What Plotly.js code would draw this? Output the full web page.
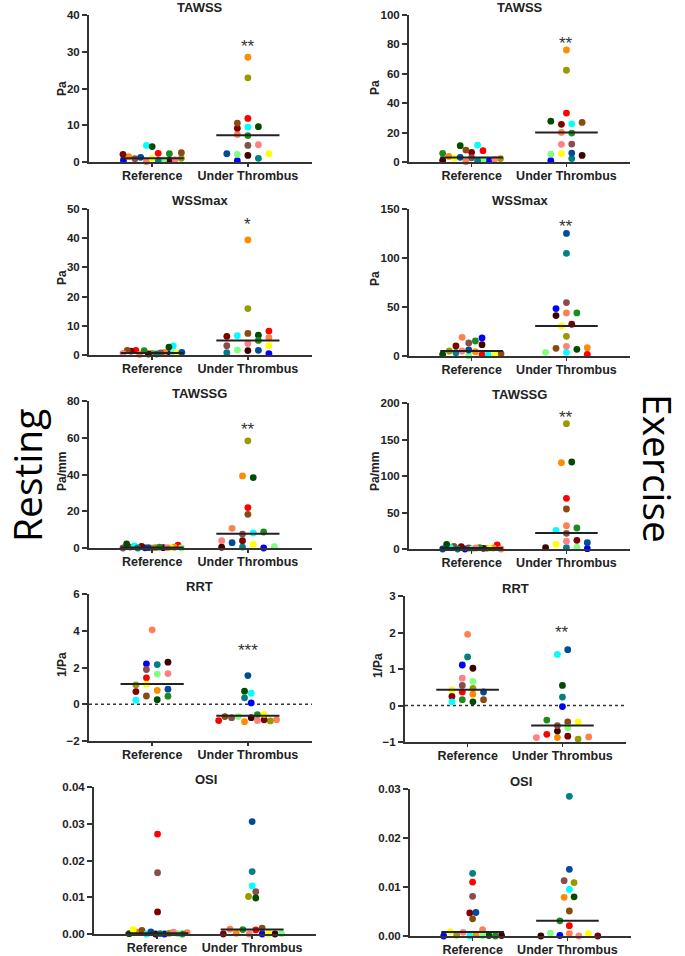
<!DOCTYPE html>
<html>
<head>
<meta charset="utf-8">
<script src="https://cdn.plot.ly/plotly-3.0.1.min.js"></script>
<style>html,body{margin:0;padding:0;background:#fff;}#chart{width:685px;height:956px;}</style>
</head>
<body>
<div id="chart"></div>
<script>
// Subject colours (same subject = same colour in every panel)
// order: blue, red, orange, coral, olive, maroon, darkbrown, brown, rosybrown, cyan, darkgreen, green, lightgreen, teal, yellow, pink, navy
const subjectColors = ['#0000FF','#FF0000','#FF8C00','#FF7F50','#999900','#800000','#3F0000','#8B4A0F','#8B4C4C','#00FFFF','#004D00','#1E8B1E','#80FF80','#008080','#FFFF00','#FF8080','#004C99'];
const categories = ['Reference', 'Under Thrombus'];

// ---- Resting TAWSS (Pa)
const restTAWSS_ref   = [0.45,2.35,1.45,0.1,1.0,2.1,0.45,2.55,0.9,4.5,4.2,2.25,0.55,0.45,1.0,0.65,1.27];
const restTAWSS_refDx = [-0.30,0.063,-0.245,-0.06,0.305,-0.305,0.18,0.305,-0.18,-0.06,0,0.18,0.12,0.063,0,0.24,-0.12];
const restTAWSS_ut    = [0.36,11.85,28.5,7.5,22.9,9.2,1.8,10.6,4.5,9.5,9.6,7.2,2.1,1.0,2.25,4.7,2.25];
const restTAWSS_utDx  = [-0.11,0,0,-0.11,0,-0.11,0,-0.11,0,0,0.11,0,-0.11,0.11,0.22,0.11,-0.22];
// ---- Exercise TAWSS (Pa)
const exTAWSS_ref   = [0.9,7.7,3.8,0.2,2.3,6.6,1.1,8.1,2.9,11.5,11.1,5.9,1.35,0.9,2.7,1.8,3.2];
const exTAWSS_refDx = [0.185,0.12,-0.24,-0.06,0.305,0,-0.305,-0.06,0,0.063,-0.12,-0.305,0.12,0.063,-0.18,0.245,-0.12];
const exTAWSS_ut    = [0.9,33.3,76.2,20.1,62.4,25.6,4.5,26.9,12.2,26.0,27.8,19.7,5.4,2.3,5.7,12.0,6.1];
const exTAWSS_utDx  = [-0.165,0,0,-0.053,0,-0.053,0.165,0.165,0.056,0.056,-0.165,0.056,-0.165,0.056,-0.053,-0.053,0.056];
// ---- Resting WSSmax (Pa)
const restWSSmax_ref   = [0.45,1.6,0.9,0.2,0.57,1.36,0.34,1.6,0.68,3.1,2.7,1.5,0.57,0.34,0.57,0.57,0.9];
const restWSSmax_refDx = [0.175,-0.17,0.13,-0.13,0,-0.22,-0.04,-0.26,0.088,0.22,0.175,-0.084,0.22,0.046,0.26,-0.305,0.31];
const restWSSmax_ut    = [0.45,8.2,39.4,5.9,15.9,6.4,1.5,7.4,3.2,6.6,6.8,5.0,1.7,0.8,3.2,3.9,1.6];
const restWSSmax_utDx  = [0.22,0.22,0,0.22,0,-0.22,0,0,-0.22,-0.11,0.11,0.11,-0.11,-0.22,0.22,0,0.11];
// ---- Exercise WSSmax (Pa)
const exWSSmax_ref   = [18.4,1.4,4.4,19.1,5.1,10.2,11.6,2.4,13.3,1.4,1.7,15.3,0.3,3.4,1.0,5.1,6.1];
const exWSSmax_refDx = [0.11,0.11,0.04,-0.1,-0.235,-0.165,0.11,0.31,-0.03,0.175,-0.305,0.04,-0.03,-0.165,0.245,-0.1,-0.03];
const exWSSmax_ut    = [48.4,1.7,8.5,44.0,20.1,32.4,41.3,7.8,54.5,3.75,6.8,44.0,3.75,104.7,30.7,9.9,125.1];
const exWSSmax_utDx  = [-0.11,0.22,0.22,0,0,0.056,-0.11,-0.11,0,0,0.11,0.11,-0.22,0,-0.053,0,0];
// ---- Resting TAWSSG (Pa/mm)
const restTAWSSG_ref   = [0.1,1.6,0.4,0,0.2,0.9,0.2,0.5,0,1.1,2.2,0.5,0,0,0.2,0.2,0.2];
const restTAWSSG_refDx = [-0.074,0.27,0.23,0,0.035,-0.11,0.116,-0.23,-0.305,-0.186,-0.267,0.077,0.305,-0.15,0.193,0.158,-0.04];
const restTAWSSG_ut    = [0,22.0,39.2,10.7,58.3,4.0,0.4,18.3,7.6,8.2,38.3,8.7,0.7,0.5,2.0,4.0,2.9];
const restTAWSSG_utDx  = [0.165,0,-0.056,-0.165,0,-0.056,-0.274,0,-0.056,0.056,0.056,0.165,0.277,-0.056,0.056,-0.274,-0.165];
// ---- Exercise TAWSSG (Pa/mm)
const exTAWSSG_ref   = [0,5.5,1.4,0,0.9,3.2,0.9,3.7,1.4,2.3,6.4,1.8,0,0,0.9,1.4,0];
const exTAWSSG_refDx = [-0.07,0.27,0.23,0.31,0.16,-0.109,0.123,-0.186,-0.03,-0.225,-0.263,0.084,0.007,-0.147,0.19,0.045,-0.305];
const exTAWSSG_ut    = [0.5,69.4,118.3,32.0,171.7,11.9,1.8,54.8,21.5,25.6,119.2,28.8,2.3,1.8,6.4,10.5,8.7];
const exTAWSSG_utDx  = [0.22,0,-0.053,0,0,0.11,-0.22,0,0,-0.11,0.056,0.11,0.11,0,-0.11,0,0.22];
// ---- Resting RRT (1/Pa)
const restRRT_ref   = [2.2,1.44,0.75,4.05,1.05,0.69,2.29,0.45,1.89,0.22,0.25,0.44,1.64,2.16,1.09,1.67,0.82];
const restRRT_refDx = [-0.06,-0.06,0.053,0,-0.17,-0.17,0.165,-0.06,-0.06,-0.17,0.053,0.165,0.053,0.053,-0.06,0.165,0.165];
const restRRT_ut    = [0.07,-0.89,-0.95,-0.84,-0.91,-0.85,-0.73,-0.67,-0.73,0.6,0.71,-0.56,-0.67,0.35,-0.55,-0.89,1.56];
const restRRT_utDx  = [0.035,-0.305,-0.035,0.30,0.235,0.17,0.035,-0.24,-0.17,0.035,-0.035,0.1,-0.1,-0.035,0.17,0.1,0];
// ---- Exercise RRT (1/Pa)
const exRRT_ref   = [1.11,0.37,0.31,1.95,0.47,0.25,1.02,0.16,0.55,0.1,0.1,0.16,0.66,1.33,0.43,0.75,0.37];
const exRRT_refDx = [-0.056,-0.056,0.056,0,0.056,-0.165,0.056,0.168,-0.056,-0.165,0.056,-0.056,0.056,0,-0.165,-0.056,0.168];
const exRRT_ut    = [-0.03,-0.79,-0.88,-0.86,-0.92,-0.84,-0.7,-0.45,-0.55,1.4,0.55,-0.4,-0.61,0.23,-0.45,-0.88,1.53];
const exRRT_utDx  = [0,-0.165,-0.053,0.277,0.165,0.056,-0.053,0.056,-0.053,-0.053,0,-0.165,0.056,0,0.165,-0.275,0.056];
// ---- Resting OSI
const restOSI_ref   = [0,0.0272,0.0005,0.0004,0.0002,0.006,0,0.001,0.0167,0,0.0001,0,0.0001,0.0001,0.0012,0.0005,0.0006];
const restOSI_refDx = [0.08,0.007,-0.205,0.317,0.13,0.007,-0.014,-0.157,0.007,-0.108,-0.29,0.268,0.22,0.035,-0.25,0.174,-0.063];
const restOSI_ut    = [0,0.0011,0.0002,0.0013,0.0102,0,0,0.0016,0.0115,0.0131,0.0098,0.0012,0.0001,0.017,0.0001,0,0.0306];
const restOSI_utDx  = [0.105,0.038,-0.167,-0.233,-0.038,-0.303,0.24,0.105,0.038,0,0.038,-0.098,0.307,0,0.17,-0.031,0];
// ---- Exercise OSI
const exOSI_ref   = [0,0.011,0.0003,0.0013,0.0002,0.0047,0.0001,0.0035,0.0081,0,0.0001,0,0.0001,0.0128,0.0009,0.00075,0.0048];
const exOSI_refDx = [-0.305,0,0.035,0.105,-0.168,-0.03,0.305,0,0,-0.03,0.172,0.24,0.105,0,-0.235,-0.1,0.035];
const exOSI_ut    = [0.0001,0.0021,0.0079,0.0005,0.0109,0,0,0.0051,0.0113,0.0095,0.008,0.0031,0.0006,0.0285,0.0005,0,0.0136];
const exOSI_utDx  = [-0.08,0.02,-0.035,0.02,0.07,0.32,-0.28,0.02,-0.035,0.02,0.07,-0.08,-0.18,0.02,0.22,0.12,0.02];

// medians [Reference, Under Thrombus]
const medRestTAWSS = [1.0, 7.3],  medExTAWSS = [3.0, 20];
const medRestWSSmax = [0.7, 5.0], medExWSSmax = [5.1, 30.7];
const medRestTAWSSG = [0.3, 7.7], medExTAWSSG = [1.5, 22];
const medRestRRT = [1.1, -0.63],  medExRRT = [0.43, -0.55];
const medRestOSI = [0.0002, 0.0012], medExOSI = [0.0008, 0.0031];

// significance labels and heights
const sigText = ['**','**','*','**','**','**','***','**',null,null];
const sigY = [32.6, 83, 46, 136, 66.6, 185, 3.15, 2.1, null, null];

const panelTitles = ['TAWSS','TAWSS','WSSmax','WSSmax','TAWSSG','TAWSSG','RRT','RRT','OSI','OSI'];
const unitTitles = ['Pa','Pa','Pa','Pa','Pa/mm','Pa/mm','1/Pa','1/Pa','',''];
const yRanges = [[0,40],[0,100],[0,50],[0,150],[0,80],[0,200],[-2,6],[-1,3],[0,0.04],[0,0.03]];
const yTicks = [[0,10,20,30,40],[0,20,40,60,80,100],[0,10,20,30,40,50],[0,50,100,150],[0,20,40,60,80],[0,50,100,150,200],[-2,0,2,4,6],[-1,0,1,2,3],[0,0.01,0.02,0.03,0.04],[0,0.01,0.02,0.03]];

const series = [
  [restTAWSS_ref,restTAWSS_refDx,restTAWSS_ut,restTAWSS_utDx,medRestTAWSS],
  [exTAWSS_ref,exTAWSS_refDx,exTAWSS_ut,exTAWSS_utDx,medExTAWSS],
  [restWSSmax_ref,restWSSmax_refDx,restWSSmax_ut,restWSSmax_utDx,medRestWSSmax],
  [exWSSmax_ref,exWSSmax_refDx,exWSSmax_ut,exWSSmax_utDx,medExWSSmax],
  [restTAWSSG_ref,restTAWSSG_refDx,restTAWSSG_ut,restTAWSSG_utDx,medRestTAWSSG],
  [exTAWSSG_ref,exTAWSSG_refDx,exTAWSSG_ut,exTAWSSG_utDx,medExTAWSSG],
  [restRRT_ref,restRRT_refDx,restRRT_ut,restRRT_utDx,medRestRRT],
  [exRRT_ref,exRRT_refDx,exRRT_ut,exRRT_utDx,medExRRT],
  [restOSI_ref,restOSI_refDx,restOSI_ut,restOSI_utDx,medRestOSI],
  [exOSI_ref,exOSI_refDx,exOSI_ut,exOSI_utDx,medExOSI]
];

// ---- layout geometry (pixels)
const W = 685, H = 956;
const xPix = [[89,312],[409,630],[89,312],[409,630],[89,312],[409,630],[89,312],[405,626],[94,316],[410,631]];
const yPix = [[15,162],[15,162],[209,355],[209,356],[401,548],[403,549],[594,741],[596,742],[787,934],[789,936]];
const titlePos = [[200,7],[520,7],[200,201],[520,201],[200,393],[519,394],[199,586],[515,588],[206,779],[521,781]];
const unitPos = [[62,89],[375,88],[62,278],[375,279],[62,472],[375,472],[62,665],[378,666],null,null];

const boldFont = 'Liberation Sans, Arial, sans-serif';
const ink = '#222';
const axisCol = '#333';

const traces = [];
const layout = {
  width: W, height: H,
  margin: {l:0, r:0, t:0, b:0},
  paper_bgcolor: '#fff', plot_bgcolor: 'rgba(0,0,0,0)',
  showlegend: false,
  annotations: [], shapes: []
};

series.forEach((s, i) => {
  const n = i + 1;
  const xa = 'x' + n, ya = 'y' + n;
  const [ref, refDx, ut, utDx, med] = s;
  traces.push({
    type: 'scatter', mode: 'markers', xaxis: xa, yaxis: ya, cliponaxis: false,
    x: refDx.map(d => 0 + d), y: ref,
    marker: {size: 6.8, color: subjectColors, line: {width: 0}}, hoverinfo: 'y'
  });
  traces.push({
    type: 'scatter', mode: 'markers', xaxis: xa, yaxis: ya, cliponaxis: false,
    x: utDx.map(d => 1 + d), y: ut,
    marker: {size: 6.8, color: subjectColors, line: {width: 0}}, hoverinfo: 'y'
  });
  med.forEach((m, g) => {
    traces.push({
      type: 'scatter', mode: 'lines', xaxis: xa, yaxis: ya, cliponaxis: false,
      x: [g - 0.33, g + 0.33], y: [m, m],
      line: {color: '#222', width: 2}, hoverinfo: 'skip'
    });
  });

  layout['xaxis' + n] = {
    domain: [xPix[i][0] / W, xPix[i][1] / W], anchor: ya,
    range: [-0.66, 1.67], tickvals: [0, 1], ticktext: categories,
    showline: true, linecolor: axisCol, linewidth: 2,
    ticks: 'outside', ticklen: 3, tickwidth: 1.5, tickcolor: axisCol,
    ticklabelstandoff: -2,
    tickfont: {family: boldFont, size: 12.5, color: ink, weight: 'bold'},
    showgrid: false, zeroline: false, fixedrange: true
  };
  layout['yaxis' + n] = {
    domain: [1 - yPix[i][1] / H, 1 - yPix[i][0] / H], anchor: xa,
    range: yRanges[i], tickvals: yTicks[i],
    tickformat: (i >= 8) ? '.2f' : '',
    showline: true, linecolor: axisCol, linewidth: 2,
    ticks: 'outside', ticklen: 5, tickwidth: 2, tickcolor: axisCol,
    tickfont: {family: boldFont, size: 11.5, color: ink, weight: 'bold'},
    showgrid: false, zeroline: false, fixedrange: true
  };

  layout.annotations.push({
    xref: 'paper', yref: 'paper', x: titlePos[i][0] / W, y: 1 - titlePos[i][1] / H,
    xanchor: 'center', yanchor: 'middle', showarrow: false,
    text: '<b>' + panelTitles[i] + '</b>',
    font: {family: boldFont, size: 13, color: ink}
  });
  if (unitPos[i]) {
    layout.annotations.push({
      xref: 'paper', yref: 'paper', x: unitPos[i][0] / W, y: 1 - unitPos[i][1] / H,
      xanchor: 'center', yanchor: 'middle', showarrow: false, textangle: -90,
      text: '<b>' + unitTitles[i] + '</b>',
      font: {family: boldFont, size: 12, color: ink}
    });
  }
  if (sigText[i]) {
    layout.annotations.push({
      xref: xa, yref: ya, x: 1, y: sigY[i], xanchor: 'center', yanchor: 'middle',
      showarrow: false, text: sigText[i], yshift: -4,
      font: {family: 'Liberation Sans, Arial, sans-serif', size: 17, color: '#333'}
    });
  }
  if (i === 6 || i === 7) {
    layout.shapes.push({
      type: 'line', xref: xa + ' domain', yref: ya, x0: 0, x1: 1, y0: 0, y1: 0,
      line: {color: '#333', width: 1.5, dash: 'dot'}, layer: 'below'
    });
  }
});

layout.annotations.push({
  xref: 'paper', yref: 'paper', x: 26 / W, y: 1 - 476 / H, xanchor: 'center', yanchor: 'middle',
  showarrow: false, textangle: -90, text: 'Resting', borderpad: 0,
  font: {family: 'Open Sans, sans-serif', size: 39, color: '#000'}
});
layout.annotations.push({
  xref: 'paper', yref: 'paper', x: 659 / W, y: 1 - 468 / H, xanchor: 'center', yanchor: 'middle',
  showarrow: false, textangle: 90, text: 'Exercise', borderpad: 0,
  font: {family: 'Open Sans, sans-serif', size: 39, color: '#000'}
});

Plotly.newPlot('chart', traces, layout, {staticPlot: true, displayModeBar: false});
</script>
</body>
</html>
